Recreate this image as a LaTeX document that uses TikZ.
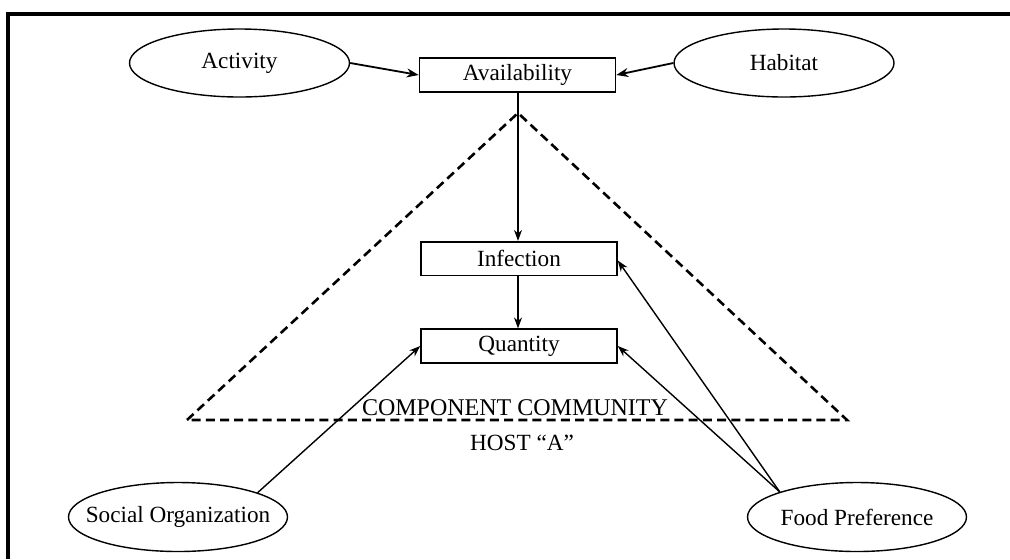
\documentclass[tikz,border=0pt]{standalone}
\usepackage{fontspec}
\setmainfont{Liberation Serif}
\usetikzlibrary{arrows.meta,shapes.geometric}
\begin{document}
\begin{tikzpicture}[x=0.5pt,y=-0.5pt,
  lbl/.style={font=\fontsize{11.6}{13}\selectfont},
  box/.style={lbl, draw, line width=0.8pt, minimum width=98pt, minimum height=16.8pt, inner sep=0pt},
  oval/.style={draw, ellipse, line width=0.7pt, inner sep=0pt, minimum width=110pt, minimum height=34pt},
  bigoval/.style={oval, minimum width=109.5pt, minimum height=34.5pt},
  conn/.style={line width=0.9pt, -{Stealth[length=6pt,width=4.5pt]}},
  thinconn/.style={line width=0.7pt, -{Stealth[length=5.5pt,width=4pt]}},
  dashline/.style={line width=1.3pt, dash pattern=on 4.5pt off 2.6pt},
  frameline/.style={line width=2pt, line join=miter}
]
\useasboundingbox (0,0) rectangle (1010,559);
\draw[frameline] (8,559) -- (8,14) -- (1010,14);

% dashed triangle
\coordinate (apex) at (518,113);
\coordinate (bl) at (187,420);
\coordinate (br) at (847,420);
\draw[dashline] (bl) -- (apex) -- (br) -- cycle;

% nodes
\node[oval, label={[lbl]center:Activity}] (act) at (239.5,63) {};
\node[oval, label={[lbl]center:Habitat}] (hab) at (784,63) {};
\node[box] (avail) at (517.5,75) {Availability};
\node[box] (inf) at (519,258.5) {Infection};
\node[box] (qty) at (519,346) {Quantity};
\node[bigoval, label={[lbl]center:Social Organization}] (soc) at (178,517) {};
\node[bigoval, label={[lbl]center:Food Preference}] (food) at (857,517) {};

\node[lbl, font=\fontsize{12}{14}\selectfont] (comp) at (515,408) {COMPONENT COMMUNITY};
\node[lbl] (host) at (522,443) {HOST “A”};

% connectors
\draw[conn] (act.east) -- (avail.west);
\draw[conn] (hab.west) -- (avail.east);
\draw[thinconn] (avail.south -| apex) -- (inf.north -| apex);
\draw[thinconn] (inf.south -| apex) -- (qty.north -| apex);
\draw[thinconn] (soc.17) -- (qty.west);
\draw[thinconn] (food.162) -- (qty.east);
\draw[thinconn] (food.162) -- ([yshift=-1pt]inf.east);
\end{tikzpicture}
\end{document}
